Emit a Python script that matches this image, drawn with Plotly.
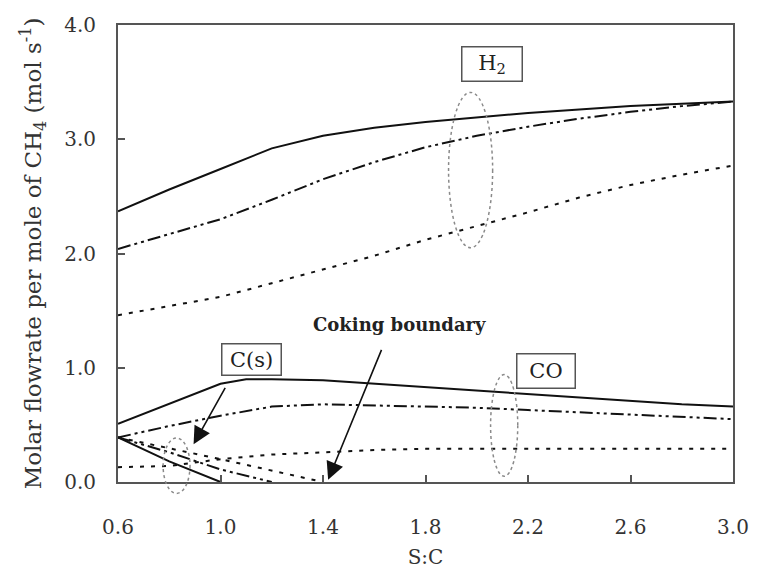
import plotly.graph_objects as go

# ---------------- data ----------------
sc_grid = [0.6, 0.8, 1.0, 1.2, 1.4, 1.6, 1.8, 2.0, 2.2, 2.4, 2.6, 2.8, 3.0]

h2_solid = [2.37, 2.56, 2.74, 2.92, 3.03, 3.10, 3.15, 3.19, 3.23, 3.26, 3.29, 3.31, 3.33]
h2_dashdot = [2.04, 2.17, 2.30, 2.47, 2.65, 2.80, 2.93, 3.03, 3.11, 3.18, 3.24, 3.29, 3.33]
h2_dotted = [1.46, 1.54, 1.62, 1.74, 1.86, 1.98, 2.12, 2.24, 2.36, 2.49, 2.60, 2.69, 2.77]

co_solid_x = [0.6, 1.0, 1.1, 1.2, 1.4, 1.6, 1.8, 2.0, 2.2, 2.4, 2.6, 2.8, 3.0]
co_solid = [0.51, 0.86, 0.90, 0.90, 0.89, 0.86, 0.83, 0.80, 0.77, 0.74, 0.71, 0.68, 0.66]
co_dashdot = [0.39, 0.49, 0.58, 0.66, 0.68, 0.67, 0.66, 0.65, 0.63, 0.61, 0.59, 0.57, 0.55]
co_dotted_x = [0.6, 0.8, 0.9, 1.0, 1.2, 1.4, 1.6, 1.8, 2.0, 2.2, 2.4, 2.6, 2.8, 3.0]
co_dotted = [0.13, 0.14, 0.17, 0.20, 0.24, 0.26, 0.28, 0.29, 0.29, 0.29, 0.29, 0.29, 0.29, 0.29]

cs_solid_x = [0.6, 0.8, 1.0]
cs_solid = [0.39, 0.18, 0.0]
cs_dashdot_x = [0.6, 0.8, 1.0, 1.2]
cs_dashdot = [0.39, 0.26, 0.11, 0.0]
cs_dotted_x = [0.6, 1.0, 1.4]
cs_dotted = [0.39, 0.20, 0.0]

x_ticks = [0.6, 1.0, 1.4, 1.8, 2.2, 2.6, 3.0]
x_ticklabels = ["0.6", "1.0", "1.4", "1.8", "2.2", "2.6", "3.0"]
y_ticks = [0.0, 1.0, 2.0, 3.0, 4.0]
y_ticklabels = ["0.0", "1.0", "2.0", "3.0", "4.0"]

# ---------------- styles ----------------
FONT = "DejaVu Serif"
SOLID = dict(color="#111", width=2, dash="solid")
DASHDOT = dict(color="#111", width=2, dash="13px,4px,3px,4px,3px,4px")
DOTTED = dict(color="#111", width=2, dash="4px,7px")

fig = go.Figure()


def add(x, y, line):
    fig.add_trace(go.Scatter(x=x, y=y, mode="lines", line=line,
                             showlegend=False, hoverinfo="skip"))


add(sc_grid, h2_solid, SOLID)
add(sc_grid, h2_dashdot, DASHDOT)
add(sc_grid, h2_dotted, DOTTED)
add(co_solid_x, co_solid, SOLID)
add(sc_grid, co_dashdot, DASHDOT)
add(co_dotted_x, co_dotted, DOTTED)
add(cs_solid_x, cs_solid, SOLID)
add(cs_dashdot_x, cs_dashdot, DASHDOT)
add(cs_dotted_x, cs_dotted, DOTTED)

XR = [0.6, 3.0]
YR = [0.0, 4.0]


def px(v):
    return (v - XR[0]) / (XR[1] - XR[0])


def py(v):
    return (v - YR[0]) / (YR[1] - YR[0])


ell = dict(color="#8a8a8a", width=1.5, dash="dot")
fig.add_shape(type="circle", xref="x", yref="y", x0=1.89, x1=2.062, y0=2.05, y1=3.41,
              line=ell, layer="above")
fig.add_shape(type="circle", xref="x", yref="y", x0=2.054, x1=2.16, y0=0.05, y1=0.94,
              line=ell, layer="above")
fig.add_shape(type="circle", xref="paper", yref="paper", x0=px(0.776), x1=px(0.881),
              y0=py(-0.10), y1=py(0.385), line=ell, layer="above")

box = dict(showarrow=False, bordercolor="#555", borderwidth=1.5, borderpad=1,
           bgcolor="rgba(255,255,255,0)", font=dict(family=FONT, size=21, color="#222"))
fig.add_annotation(x=2.058, y=3.66, text="H<sub>2</sub>", width=57, height=31, **box)
fig.add_annotation(x=2.269, y=0.97, text="CO", width=55, height=31, **box)
fig.add_annotation(x=1.122, y=1.072, text="C(s)", width=56, height=28, **box)

fig.add_annotation(x=1.70, y=1.38, text="<b>Coking boundary</b>", showarrow=False,
                   font=dict(family=FONT, size=18, color="#222"))

arrow = dict(text=" ", showarrow=True, axref="x", ayref="y", arrowhead=2,
             arrowsize=2.2, arrowwidth=1.6, arrowcolor="#111", standoff=0)
fig.add_annotation(x=1.42, y=0.02, ax=1.64, ay=1.22, **arrow)
fig.add_annotation(x=0.895, y=0.33, ax=1.03, ay=0.87, **arrow)

axis_common = dict(showgrid=False, zeroline=False, showline=True, mirror=True,
                   linecolor="#555", linewidth=2, ticks="inside", ticklen=7,
                   tickwidth=1.5, tickcolor="#555", automargin=False,
                   tickfont=dict(family=FONT, size=20, color="#333"))

fig.update_layout(
    width=757, height=569,
    margin=dict(l=118, r=24, t=25, b=87),
    paper_bgcolor="white", plot_bgcolor="white",
    xaxis=dict(range=XR, tickmode="array", tickvals=x_ticks, ticktext=x_ticklabels,
               ticklabelstandoff=26,
               title=dict(text="S:C", font=dict(family=FONT, size=20, color="#333"),
                          standoff=14),
               **axis_common),
    yaxis=dict(range=YR, tickmode="array", tickvals=y_ticks, ticktext=y_ticklabels,
               ticklabelstandoff=16,
               title=dict(text="Molar flowrate per mole of CH<sub>4</sub> (mol s<sup>-1</sup>)",
                          font=dict(family=FONT, size=23, color="#333"), standoff=16),
               **axis_common),
)

fig.write_html("out.html")
